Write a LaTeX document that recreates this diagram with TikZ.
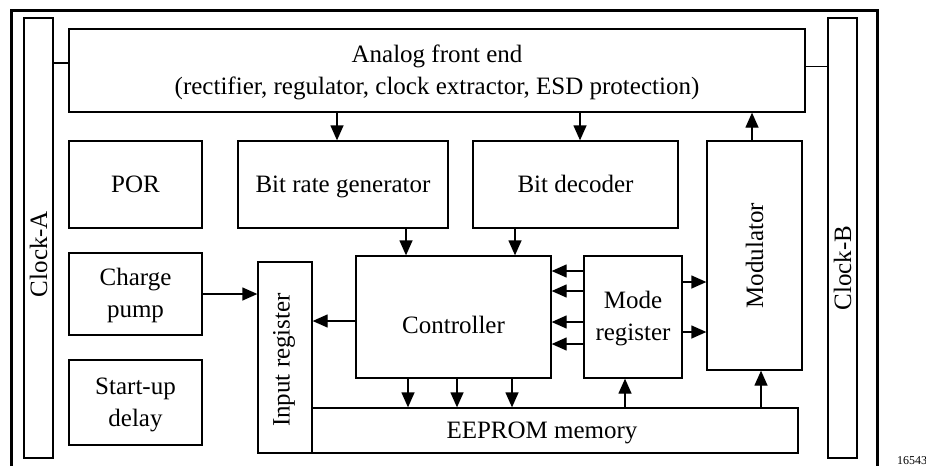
\documentclass[tikz,border=0pt]{standalone}
\usepackage{fontspec}
\setmainfont{Liberation Serif}
\usetikzlibrary{arrows.meta}
\newcommand\tstr{\rule{0pt}{21pt}}
\newcommand\bstr{\rule[-5pt]{0pt}{5pt}}
\begin{document}
\begin{tikzpicture}[x=1pt,y=-1pt,
  blk/.style={draw, line width=1.3pt, inner sep=0pt, align=center, fill=white},
  one/.style={text height=20pt, text depth=5pt},
  lbl/.style={inner sep=0pt, align=center},
  arr/.style={line width=1.3pt, -{Triangle[length=15pt,width=13pt]}},
  wire/.style={line width=1.3pt},
  every node/.style={font=\fontsize{25}{32}\selectfont}]
\useasboundingbox (0,0) rectangle (926,466);
% outer frame
\draw[line width=3.3pt] (11.5,466) -- (11.5,10.5) -- (877.5,10.5) -- (877.5,466);
% boxes
\node[blk, minimum width=29pt, minimum height=440pt] (ClockA) at (38.5,238) {};
\node[lbl, rotate=90] (ClockAlbl) at (38.5,254) {Clock-A};
\node[blk, minimum width=29pt, minimum height=440pt] (ClockB) at (842.5,238) {};
\node[lbl, rotate=90] (ClockBlbl) at (842.5,268) {Clock-B};
\node[blk, minimum width=736pt, minimum height=83pt] (AFE) at (437,70.5)
  {\tstr Analog front end\\(rectifier, regulator, clock extractor, ESD protection)\bstr};
\node[blk, one, minimum width=133pt, minimum height=87pt] (POR) at (135.5,184.5) {POR};
\node[blk, one, minimum width=210pt, minimum height=87pt] (BRG) at (343,184.5) {Bit rate generator};
\node[blk, one, minimum width=205pt, minimum height=87pt] (BD) at (575.5,184.5) {Bit decoder};
\node[blk, minimum width=95pt, minimum height=229pt] (MOD) at (754.5,255.5) {};
\node[lbl, rotate=90] (MODlbl) at (754.5,255.5) {Modulator};
\node[blk, minimum width=133pt, minimum height=82pt] (CP) at (135.5,294) {\tstr Charge\\pump\bstr};
\node[blk, minimum width=133pt, minimum height=85pt] (SUD) at (135.5,402.5) {\tstr Start-up\\delay\bstr};
\node[blk, minimum width=54pt, minimum height=191pt] (IR) at (285,357.5) {};
\node[lbl, rotate=90] (IRlbl) at (284,360) {Input register};
\node[blk, minimum width=195pt, minimum height=122pt] (CTRL) at (453.5,317) {};
\node[lbl, one] (CTRLlbl) at (453.5,325.5) {Controller};
\node[blk, minimum width=98pt, minimum height=122pt] (MR) at (633,317) {\tstr Mode\\register\bstr};
\node[blk, minimum width=486pt, minimum height=45pt] (EE) at (555,430.5) {};
\node[lbl, one] (EElbl) at (542,430.5) {EEPROM memory};
\node[anchor=base west, inner sep=0pt, font=\fontsize{12}{13}\selectfont] (fig) at (897,464) {16543};
% clock links
\draw[wire] ([yshift=7.5pt]AFE.west) -- ([yshift=7.5pt]AFE.west -| ClockA.east);
\draw[wire] ([yshift=4pt]AFE.east) -- ([yshift=4pt]AFE.east -| ClockB.west);
% AFE arrows
\draw[arr] (AFE.south -| 337,0) -- (BRG.north -| 337,0);
\draw[arr] (AFE.south -| 580,0) -- (BD.north -| 580,0);
\draw[arr] (MOD.north -| 752,0) -- (AFE.south -| 752,0);
% to controller
\draw[arr] (BRG.south -| 406,0) -- (CTRL.north -| 406,0);
\draw[arr] (BD.south -| 515,0) -- (CTRL.north -| 515,0);
\foreach \yy in {271,291,322,344}
  \draw[arr] (MR.west |- 0,\yy) -- (CTRL.east |- 0,\yy);
\foreach \yy in {282,332}
  \draw[arr] (MR.east |- 0,\yy) -- (MOD.west |- 0,\yy);
\draw[arr] (CTRL.west |- 0,321) -- (IR.east |- 0,321);
\draw[arr] (CP.east |- 0,294) -- (IR.west |- 0,294);
\foreach \xx in {408,457,512}
  \draw[arr] (CTRL.south -| \xx,0) -- (EE.north -| \xx,0);
\draw[arr] (EE.north -| 625,0) -- (MR.south -| 625,0);
\draw[arr] (EE.north -| 761,0) -- (MOD.south -| 761,0);
\end{tikzpicture}
\end{document}
